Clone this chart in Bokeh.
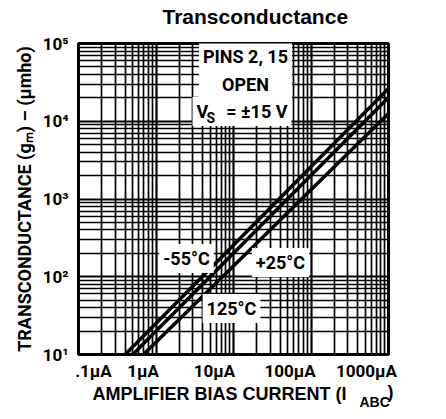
from bokeh.plotting import figure
from bokeh.models import Label, FixedTicker, LogAxis, CustomJSTickFormatter
from bokeh.embed import file_html
from bokeh.resources import INLINE

# ---- data ----
temps = ["-55°C", "+25°C", "125°C"]
i_m55 = [0.40, 1000]
gm_m55 = [10, 26400]
i_p25 = [0.50, 1000]
gm_p25 = [10, 20200]
i_125 = [0.69, 1000]
gm_125 = [10, 12600]

x_tick_values = [0.1, 1, 10, 100, 1000]
x_tick_labels = [".1µA", "1µA", "10µA", "100µA", "1000µA"]
y_tick_values = [10, 100, 1000, 10000, 100000]
y_tick_labels = ["10¹", "10²", "10³", "10⁴", "10⁵"]
minor_mult = [2, 3, 4, 5, 6, 7, 8, 9]

FONT = "Roboto"
FONT2 = "Liberation Sans"
DECADE_PX = 77.5  # pixels per decade on the x axis (310 px / 4 decades)
x_label_shift_px = [15, -13, -19, -21, -22]

p = figure(width=440, height=415, x_axis_type="log", y_axis_type="log",
           x_range=(0.1, 1000), y_range=(10, 100000),
           output_backend="svg", toolbar_location=None,
           min_border_left=78, min_border_right=52,
           min_border_top=43, min_border_bottom=61)
p.background_fill_color = "white"
p.border_fill_color = "white"
p.outline_line_color = "black"
p.outline_line_width = 3

xt = FixedTicker(ticks=x_tick_values,
                 minor_ticks=[m * d for d in x_tick_values[:-1] for m in minor_mult])
yt = FixedTicker(ticks=y_tick_values,
                 minor_ticks=[m * d for d in y_tick_values[:-1] for m in minor_mult])
main_x = p.below[0]
main_x.ticker = xt
main_x.visible = False
p.yaxis.ticker = yt
p.xgrid.ticker = xt
p.ygrid.ticker = yt
for g in (p.xgrid, p.ygrid):
    g.grid_line_color = "black"
    g.grid_line_width = 2.2
    g.grid_line_alpha = 1
    g.minor_grid_line_color = "black"
    g.minor_grid_line_width = 1.7
    g.minor_grid_line_alpha = 1

# y axis
ya = p.yaxis[0]
ya.major_label_overrides = {v: l for v, l in zip(y_tick_values, y_tick_labels)}
ya.major_label_text_font = FONT
ya.major_label_text_font_style = "bold"
ya.major_label_text_font_size = "17px"
ya.major_label_text_color = "black"
ya.major_label_standoff = 6
ya.major_tick_line_color = None
ya.major_tick_out = 0
ya.major_tick_in = 0
ya.minor_tick_line_color = None
ya.axis_line_color = None
ya.axis_label = "TRANSCONDUCTANCE (gₘ) – (µmho)"
ya.axis_label_text_font = FONT
ya.axis_label_text_font_style = "bold"
ya.axis_label_text_font_size = "18px"
ya.axis_label_text_color = "black"
ya.axis_label_standoff = 5

# x tick labels: drawn by an axis whose ticks sit where the reference prints them
label_ticks = [v * 10 ** (s / DECADE_PX) for v, s in zip(x_tick_values, x_label_shift_px)]
xa = LogAxis(ticker=FixedTicker(ticks=label_ticks, minor_ticks=[]),
             formatter=CustomJSTickFormatter(args=dict(labels=x_tick_labels),
                                             code="return labels[index];"))
xa.major_label_text_font = FONT
xa.major_label_text_font_style = "bold"
xa.major_label_text_font_size = "17px"
xa.major_label_text_color = "black"
xa.major_label_standoff = 6
xa.major_tick_line_color = None
xa.major_tick_out = 0
xa.major_tick_in = 0
xa.minor_tick_line_color = None
xa.axis_line_color = None
p.add_layout(xa, "below")

# curves
for xs, ys in ((i_m55, gm_m55), (i_p25, gm_p25), (i_125, gm_125)):
    p.line(xs, ys, line_color="black", line_width=3.5)


def lab(text, x, y, size="18px", align="center", baseline="middle", bg=None, font=FONT):
    l = Label(x=x, y=y, x_units="screen", y_units="screen", text=text,
              text_font=font, text_font_style="bold", text_font_size=size,
              text_color="black", text_align=align, text_baseline=baseline)
    if bg:
        l.background_fill_color = bg
        l.padding = 4
    return l


# chart title
p.add_layout(lab("Transconductance", 84, 27, size="21px", align="left", font=FONT2), "above")

# x axis title (with subscript)
p.add_layout(lab("AMPLIFIER BIAS CURRENT (I", 14, 10, align="left", font=FONT2), "below")
p.add_layout(lab("ABC", -29, -47, size="14px", align="left", font=FONT2), "right")
p.add_layout(lab(")", -31, -37, align="left", font=FONT2), "right")

# notes inside the plot
note = lab("PINS 2, 15\nOPEN", 167, 284, bg="white")
note.text_line_height = 1.35
p.add_layout(note)
NBSP = "\u00a0"
p.add_layout(lab("V" + NBSP * 4 + "= ±15 V", 114, 243, align="left", bg="white"))
p.add_layout(lab("S", 128, 237, size="14px", align="left"))

# curve labels
p.add_layout(lab(temps[0], 108, 96, bg="white"))
p.add_layout(lab(temps[1], 202, 92, bg="white"))
p.add_layout(lab(temps[2], 153, 46, bg="white"))

open("out.html", "w").write(file_html(p, INLINE))
